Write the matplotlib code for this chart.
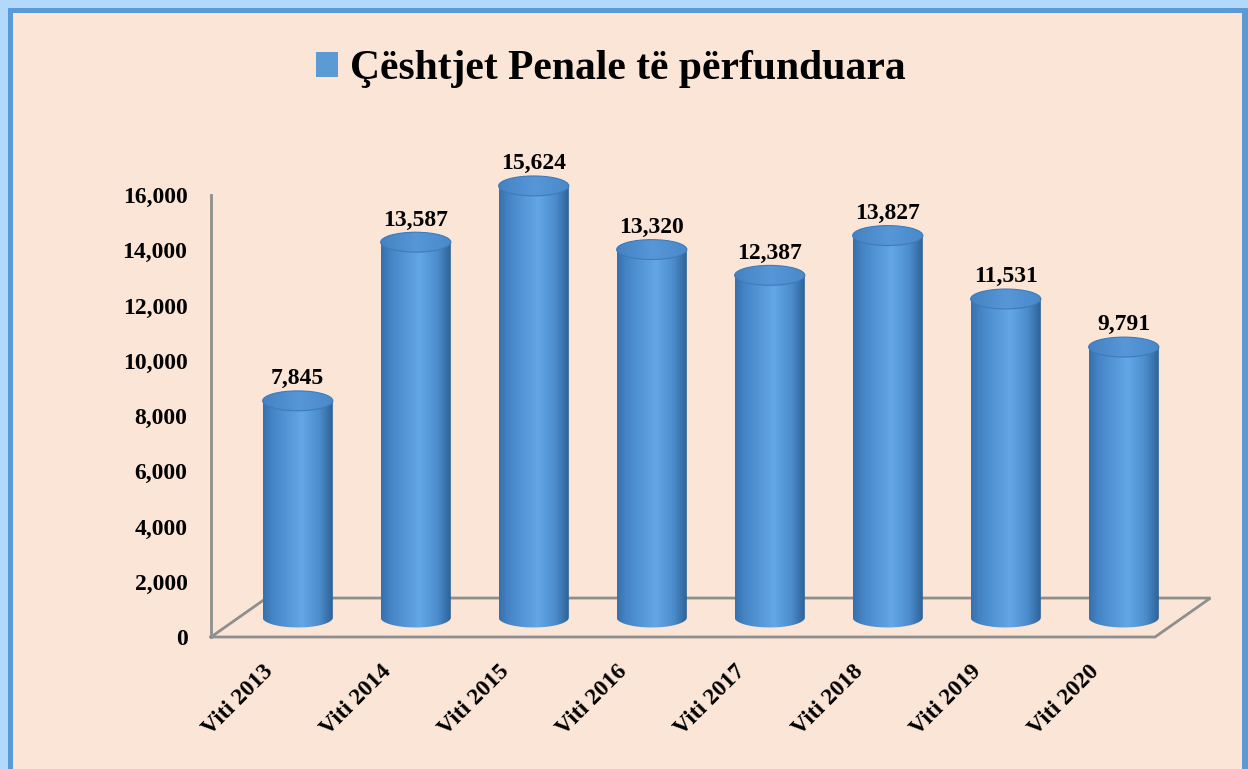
import numpy as np
import matplotlib
matplotlib.use('Agg')
import matplotlib.pyplot as plt
from matplotlib.patches import Rectangle, Ellipse, PathPatch, Patch
from matplotlib.path import Path
from matplotlib.colors import LinearSegmentedColormap

# data
years = ['Viti 2013', 'Viti 2014', 'Viti 2015', 'Viti 2016',
         'Viti 2017', 'Viti 2018', 'Viti 2019', 'Viti 2020']
cases = [7845, 13587, 15624, 13320, 12387, 13827, 11531, 9791]
series_name = 'Çështjet Penale të përfunduara'
yticks = [0, 2000, 4000, 6000, 8000, 10000, 12000, 14000, 16000]

# look
W, H = 1248, 769
OUTER = '#b2d8fb'
FRAME = '#5b9bd5'
BG = '#fbe5d6'
GRID = '#8f8f8f'
FONT = 'Liberation Serif'
FS = 17

DEPTH_X = 0.47      # floor depth, category units
DEPTH_Y = 1410      # floor depth, value units
BAR_W = 0.595
ELL_H = 720         # ellipse height, value units
YMAX = 17000        # a bit of headroom so the tallest cap isn't clipped

plt.rcParams['font.family'] = FONT
plt.rcParams['font.weight'] = 'bold'

fig = plt.figure(figsize=(W / 100, H / 100), dpi=100, facecolor=OUTER)

# frame: light outer glow, blue line, peach panel
fig.patches.append(Rectangle((8 / W, -0.05), 1.1, (761 / H) + 0.05,
                             transform=fig.transFigure, facecolor=FRAME,
                             edgecolor='none', zorder=-3))
fig.patches.append(Rectangle((13 / W, -0.05), (1229 / W), (756 / H) + 0.05,
                             transform=fig.transFigure, facecolor=BG,
                             edgecolor='none', zorder=-2))

# 0 -> 637px, 16000 -> 195px
ax_h = 442 * YMAX / 16000
ax = fig.add_axes((211 / W, 132 / H, 1003 / W, ax_h / H))
ax.set_zorder(2)
ax.set_facecolor('none')

for s in ['top', 'right', 'bottom']:
    ax.spines[s].set_visible(False)
ax.spines['left'].set_color(GRID)
ax.spines['left'].set_linewidth(2)
ax.spines['left'].set_bounds(0, 16000)
ax.set_xticks([])
ax.set_yticks(yticks)
ax.set_yticklabels([f'{v:,}' for v in yticks])
ax.tick_params(axis='y', length=0, pad=17, labelsize=FS)

# floor
n = len(years)
fx = [-0.5, n - 0.5, n - 0.5 + DEPTH_X, -0.5 + DEPTH_X, -0.5]
fy = [0, 0, DEPTH_Y, DEPTH_Y, 0]
ax.plot(fx, fy, color=GRID, lw=2, zorder=1, clip_on=False, solid_joinstyle='miter')

# cylinders
body_cmap = LinearSegmentedColormap.from_list('cyl', [
    (0.0, '#3670ad'), (0.15, '#4686c8'), (0.55, '#63a7e6'),
    (0.8, '#4b8ccc'), (1.0, '#2b5f94')])
top_cmap = LinearSegmentedColormap.from_list('cap', ['#4582c2', '#5797d7', '#4a89c9'])
grad = np.linspace(0, 1, 256).reshape(1, -1)
base = DEPTH_Y / 2
t = np.linspace(np.pi, 2 * np.pi, 60)

for i, v in enumerate(cases):
    cx = i + DEPTH_X / 2
    x0, x1 = cx - BAR_W / 2, cx + BAR_W / 2
    top = base + v
    arc = np.column_stack([cx + BAR_W / 2 * np.cos(t), base + ELL_H / 2 * np.sin(t)])
    verts = np.vstack([[x0, top], arc, [x1, top], [x0, top]])
    codes = [Path.MOVETO] + [Path.LINETO] * (len(verts) - 2) + [Path.CLOSEPOLY]
    body = PathPatch(Path(verts, codes), facecolor='none', edgecolor='none',
                     transform=ax.transData)
    ax.add_patch(body)
    im = ax.imshow(grad, cmap=body_cmap, aspect='auto', zorder=3,
                   extent=(x0, x1, base - ELL_H, top), interpolation='bicubic')
    im.set_clip_path(body)
    cap = Ellipse((cx, top), BAR_W, ELL_H, facecolor='none',
                  edgecolor='#3e7aba', lw=0.8, zorder=5, clip_on=False)
    ax.add_patch(cap)
    cap_im = ax.imshow(grad, cmap=top_cmap, aspect='auto', zorder=4,
                       extent=(x0, x1, top - ELL_H / 2, top + ELL_H / 2),
                       interpolation='bicubic')
    cap_im.set_clip_path(cap)
    ax.text(cx, top + ELL_H / 2 + 60, f'{v:,}', ha='center', va='bottom',
            fontsize=FS, fontweight='bold', zorder=6, clip_on=False)
    ax.text(i, -1120, years[i], rotation=45, rotation_mode='anchor',
            ha='right', va='center', fontsize=FS, fontweight='bold', clip_on=False)

ax.set_xlim(-0.5, 8.0)
ax.set_ylim(0, YMAX)

# legend as title
fig.legend(handles=[Patch(facecolor='#5b9bd5', edgecolor='none', label=series_name)],
           loc='center', bbox_to_anchor=(611 / W, 1 - 69 / H), frameon=False,
           prop={'family': FONT, 'weight': 'bold', 'size': 30},
           handlelength=0.53, handleheight=0.53, handletextpad=0.3)

fig.savefig('out.png', dpi=100, facecolor=fig.get_facecolor())
